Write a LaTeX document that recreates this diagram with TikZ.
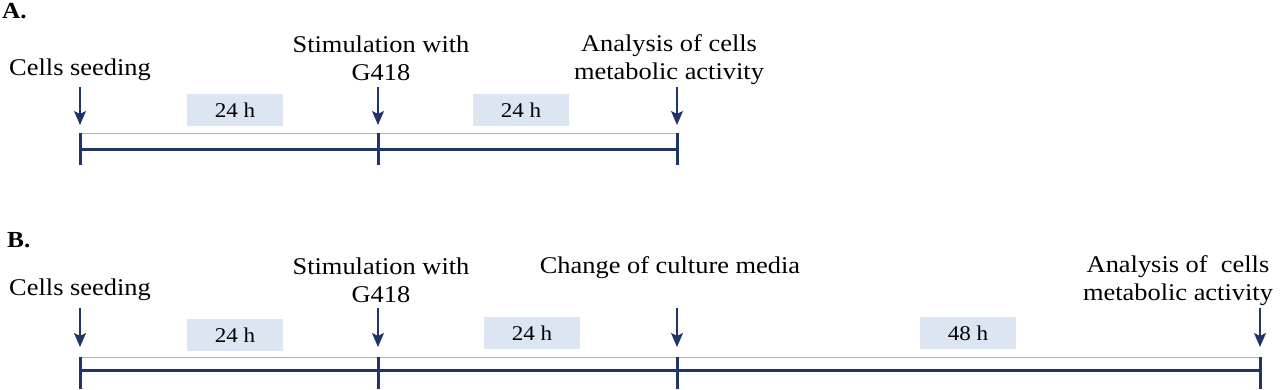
\documentclass[tikz,border=0pt]{standalone}
\usepackage{fontspec}
\setmainfont{Liberation Serif}[FakeStretch=1.1]
\usetikzlibrary{arrows.meta,calc}
\definecolor{navy}{HTML}{1F3468}
\definecolor{lineblue}{HTML}{9DB5DD}
\definecolor{boxblue}{HTML}{DCE6F2}

\begin{document}
\begin{tikzpicture}[x=1pt,y=-1pt,
  event/.style={font=\fontsize{24}{28}\selectfont,align=center,inner sep=0pt,anchor=base},
  panel/.style={font=\fontsize{23}{24}\selectfont\bfseries,anchor=base west,inner sep=0pt},
  dur box/.style={fill=boxblue,minimum width=96pt,minimum height=32pt,inner sep=0pt,font=\fontsize{21}{22}\selectfont},
  hint/.style={-{Stealth[length=14pt,width=12pt,inset=3pt]},navy,line width=1.1pt},
  thick axis/.style={navy,line width=3pt},
  thin axis/.style={lineblue,line width=1pt}]
\useasboundingbox (0,0) rectangle (1280,389);

% panel A
\node[panel] (A) at (2,18) {A.};
\coordinate (a0) at (80,133);
\coordinate (a1) at (378,133);
\coordinate (a2) at (677,133);

\node[event] (seedA) at (80,75) {Cells seeding};
\node[event] (stimA) at (381,80) {Stimulation with\\G418};
\node[event] (anaA) at (669,79) {Analysis of cells\\metabolic activity};

\draw[thin axis] (a0) -- (a2);
\draw[thick axis] ([yshift=-16pt]a0) -- ([yshift=-16pt]a2);
\foreach \t in {a0,a1,a2}
  \draw[thick axis] (\t) -- ([yshift=-32pt]\t);
\foreach \t in {a0,a1,a2}
  \draw[hint] ([yshift=46pt]\t) -- ([yshift=8pt]\t);

\node[dur box] (dA1) at (235,110) {24 h};
\node[dur box] (dA2) at (521,110) {24 h};
\draw[thin axis] ($(a0)!0.5!(a1)$ |- dA1.south) -- ($(a0)!0.5!(a1)$);
\draw[thin axis] ($(a1)!0.5!(a2)$ |- dA2.south) -- ($(a1)!0.5!(a2)$);

% panel B
\node[panel] (B) at (7,247) {B.};
\coordinate (b0) at (80,357);
\coordinate (b1) at (378,357);
\coordinate (b2) at (677,357);
\coordinate (b3) at (1260,357);

\node[event] (seedB) at (80,295) {Cells seeding};
\node[event] (stimB) at (381,302) {Stimulation with\\G418};
\node[event] (mediaB) at (670,273) {Change of culture media};
\node[event] (anaB) at (1178,300) {Analysis of~ cells\\metabolic activity};

\draw[thin axis] (b0) -- (b3);
\draw[thick axis] ([yshift=-13pt]b0) -- ([yshift=-13pt]b3);
\foreach \t in {b0,b1,b2,b3}
  \draw[thick axis] (\t) -- ([yshift=-32pt]\t);
\foreach \t in {b0,b1,b2,b3}
  \draw[hint] ([yshift=49pt]\t) -- ([yshift=10pt]\t);

\node[dur box] (dB1) at (235,335) {24 h};
\node[dur box] (dB2) at (532,333) {24 h};
\node[dur box] (dB3) at (968,333) {48 h};
\draw[thin axis] ($(b0)!0.5!(b1)$ |- dB1.south) -- ($(b0)!0.5!(b1)$);
\draw[thin axis] ($(b1)!0.5!(b2)$ |- dB2.south) -- ($(b1)!0.5!(b2)$);
\draw[thin axis] ($(b2)!0.5!(b3)$ |- dB3.south) -- ($(b2)!0.5!(b3)$);
\end{tikzpicture}
\end{document}
